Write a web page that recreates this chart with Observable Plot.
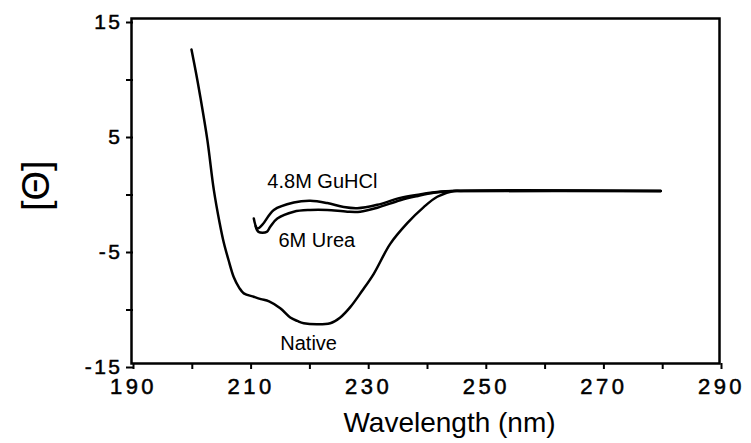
<!DOCTYPE html>
<html>
<head>
<meta charset="utf-8">
<script src="https://cdn.jsdelivr.net/npm/d3@7"></script>
<script src="https://cdn.jsdelivr.net/npm/@observablehq/plot@0.6"></script>
<style>
  body { margin: 0; background: #fff; }
  svg { font-family: "Liberation Sans", Arial, sans-serif; }
  g[aria-label="x-axis tick label"] text { letter-spacing: 3.5px; stroke: #000; stroke-width: 0.5px; }
  g[aria-label="y-axis tick label"] text { letter-spacing: 2.5px; stroke: #000; stroke-width: 0.5px; }
  g[aria-label="curve labels"] text { letter-spacing: 2.5px; stroke: #000; stroke-width: 0.5px; }
  g[aria-label="x title"] text { letter-spacing: 0.6px; stroke: #000; stroke-width: 0.4px; }
  g[aria-label="y title"] text { letter-spacing: 4px; stroke: #000; stroke-width: 0.5px; }
</style>
</head>
<body>
<div id="chart"></div>
<script>
// Native
const nativeWl  = [200.2, 201.0, 201.7, 202.9, 204.0, 205.0, 205.7, 206.5, 207.4, 208.3, 209.1, 210.8, 212.0, 213.4, 215.3, 217.0, 218.2, 219.3, 223.8, 225.5, 227.2, 229.2, 231.2, 234.0, 236.9, 239.7, 242.0, 244.8, 246, 280];
const nativeVal = [12.3, 10.2, 8.2, 4.45, 0.1, -2.8, -4.5, -6.0, -7.5, -8.4, -8.9, -9.2, -9.4, -9.6, -10.2, -11.0, -11.3, -11.5, -11.5, -11.0, -10.1, -8.7, -7.2, -4.6, -2.8, -1.4, -0.5, 0.0, 0, 0];
// 4.8M GuHCl
const guhclWl  = [210.8, 211.4, 212.3, 214.2, 217.6, 220.4, 223.3, 226.1, 228.4, 231.8, 235.7, 239.0, 242.6, 245, 280];
const guhclVal = [-2.4, -3.25, -2.9, -1.65, -1.0, -0.85, -1.05, -1.4, -1.5, -1.2, -0.6, -0.3, -0.05, 0, 0];
// 6M Urea
const ureaWl  = [211.1, 211.6, 213.0, 213.6, 214.8, 217.6, 220.4, 223.3, 226.7, 228.9, 231.8, 235.7, 238.5, 241.4, 245, 280];
const ureaVal = [-3.05, -3.55, -3.55, -3.1, -2.4, -1.8, -1.65, -1.65, -1.8, -1.8, -1.45, -0.8, -0.45, -0.15, 0, 0];

const xTicks = d3.range(190, 291, 10);
const yTicks = d3.range(-15, 16, 5);

const labelText = ["4.8M GuHCl", "6M Urea", "Native"];
const labelWl   = [213.1, 215.0, 215.3];
const labelVal  = [0.27, -4.9, -13.86];

const toRows = (wl, v) => wl.map((w, i) => ({wl: w, v: v[i]}));
const labels = labelText.map((t, i) => ({t, wl: labelWl[i], v: labelVal[i]}));

const chart = Plot.plot({
  width: 751,
  height: 443,
  marginLeft: 131,
  marginRight: 32,
  marginTop: 18,
  marginBottom: 80,
  style: {fontFamily: "Liberation Sans, Arial, sans-serif", background: "#fff", color: "#000"},
  x: {domain: [190, 290]},
  y: {domain: [-15, 15]},
  marks: [
    Plot.frame({stroke: "#000", strokeWidth: 2.5}),
    Plot.axisX({ticks: xTicks, tickSize: 6, tickPadding: 9, fontSize: 22, strokeWidth: 2, dx: 2,
      tickFormat: d => ((d - 190) % 20 === 0 ? String(d) : ""), label: null}),
    Plot.axisY({ticks: yTicks, tickSize: 7, tickPadding: 4, fontSize: 21, strokeWidth: 2, dy: 4, dx: 2,
      tickFormat: d => (Math.abs(d) % 10 === 5 ? String(d) : ""), label: null}),
    Plot.line(toRows(nativeWl, nativeVal), {x: "wl", y: "v", stroke: "#000", strokeWidth: 2.5, curve: "catmull-rom"}),
    Plot.line(toRows(guhclWl, guhclVal), {x: "wl", y: "v", stroke: "#000", strokeWidth: 2.5, curve: "catmull-rom"}),
    Plot.line(toRows(ureaWl, ureaVal), {x: "wl", y: "v", stroke: "#000", strokeWidth: 2.5, curve: "catmull-rom"}),
    Plot.text(labels, {x: "wl", y: "v", text: "t", textAnchor: "start", lineAnchor: "bottom", fontSize: 20, fill: "#000", ariaLabel: "curve labels"}),
    Plot.text(["Wavelength (nm)"], {frameAnchor: "bottom", dx: 24, dy: 68, fontSize: 28, fill: "#000", ariaLabel: "x title"}),
    Plot.text(["[Θ]"], {frameAnchor: "left", dx: -95, dy: 20, rotate: -90, fontSize: 38, fill: "#000", ariaLabel: "y title"})
  ]
});
document.getElementById("chart").appendChild(chart);
</script>
</body>
</html>
